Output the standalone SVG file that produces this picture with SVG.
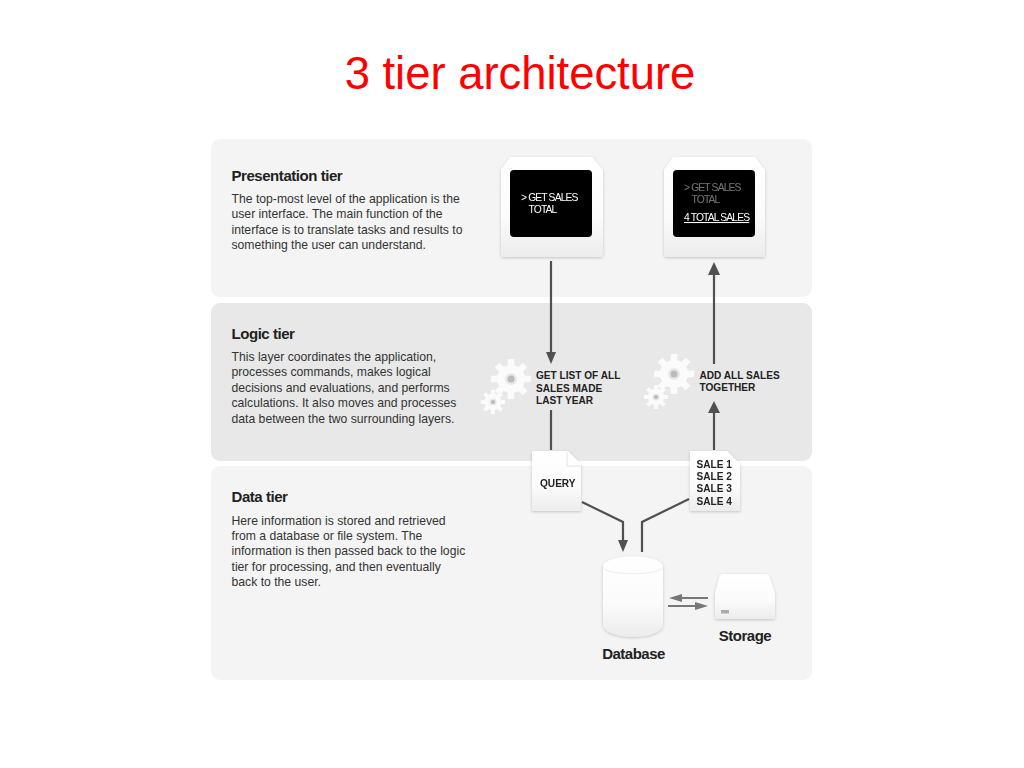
<svg xmlns="http://www.w3.org/2000/svg" width="1024" height="768" viewBox="0 0 1024 768">
<style>
text{font-family:"Liberation Sans",Arial,sans-serif}
.h{font-size:15px;font-weight:bold;fill:#222;letter-spacing:-.45px}
.b{font-size:12.2px;fill:#333}
.l{font-size:10.1px;font-weight:bold;fill:#222}
.s{font-size:10.3px;fill:#fff;letter-spacing:-.85px}
.c{fill:none;stroke:#505050;stroke-width:2.2}
.d{fill:none;stroke:#777;stroke-width:2}
</style>
<defs>
<linearGradient id="v" x1="0" y1="0" x2="0" y2="1"><stop offset="0" stop-color="#fff"/><stop offset=".6" stop-color="#fbfbfb"/><stop offset="1" stop-color="#ececec"/></linearGradient>
<filter id="sh" x="-20%" y="-20%" width="140%" height="140%"><feDropShadow dx="0" dy="1" stdDeviation="1.5" flood-color="#000" flood-opacity=".2"/></filter>
<filter id="soft"><feGaussianBlur stdDeviation=".5"/></filter>
<g id="gear" filter="url(#soft)"><circle r="14" fill="#fbfbfb"/><g stroke="#fbfbfb" stroke-width="6.500"><path d="M0-20V20M-20 0H20M-14-14L14 14M-14 14L14-14"/></g><circle r="6" fill="#e8e8e8"/><circle r="3.500" fill="#bbb"/></g>
</defs>
<rect width="1024" height="768" fill="#fff"/>
<text x="520" y="89" text-anchor="middle" font-size="45.400" fill="#f00" id="title">3 tier architecture</text>
<g id="tier-presentation">
<rect x="211" y="139" width="601" height="158" rx="9" fill="#f4f4f4"/>
<text class="h" x="231.500" y="181">Presentation tier</text>
<text class="b"><tspan x="231.500" y="203">The top-most level of the application is the</tspan><tspan x="231.500" y="218">user interface. The main function of the</tspan><tspan x="231.500" y="234">interface is to translate tasks and results to</tspan><tspan x="231.500" y="249">something the user can understand.</tspan></text>
</g>
<g id="tier-logic">
<rect x="211" y="303" width="601" height="158" rx="9" fill="#e8e8e8"/>
<text class="h" x="231.500" y="339">Logic tier</text>
<text class="b"><tspan x="231.500" y="361">This layer coordinates the application,</tspan><tspan x="231.500" y="376">processes commands, makes logical</tspan><tspan x="231.500" y="392">decisions and evaluations, and performs</tspan><tspan x="231.500" y="407">calculations. It also moves and processes</tspan><tspan x="231.500" y="423">data between the two surrounding layers.</tspan></text>
</g>
<g id="tier-data">
<rect x="211" y="466" width="601" height="214" rx="9" fill="#f4f4f4"/>
<text class="h" x="231.500" y="502">Data tier</text>
<text class="b"><tspan x="231.500" y="525">Here information is stored and retrieved</tspan><tspan x="231.500" y="540">from a database or file system. The</tspan><tspan x="231.500" y="555">information is then passed back to the logic</tspan><tspan x="231.500" y="571">tier for processing, and then eventually</tspan><tspan x="231.500" y="586">back to the user.</tspan></text>
</g>
<g id="connectors">
<path class="c" d="M551 261V354M551 410V450"/>
<path d="M546 352H556L551 364Z" fill="#505050"/>
<path class="c" d="M714 274V364M714 412V450"/>
<path d="M708 275H720L714 262ZM708 413H720L714 401Z" fill="#505050"/>
<path class="c" d="M582 502L623 522V541M689 499L642 522V552"/>
<path d="M618 540H628L623 552Z" fill="#505050"/>
<path class="d" d="M708 598H680M668 606H697"/>
<path d="M669 598L682 594V602ZM708 606L695 602V610Z" fill="#777"/>
</g>
<g id="screen-1" filter="url(#sh)">
<path d="M501 170L510 157H592L603 170V254Q603 257 600 257H504Q501 257 501 254Z" fill="url(#v)"/>
<rect x="510" y="170" width="82" height="67" rx="4" fill="#000"/>
<text class="s"><tspan x="521" y="201">&gt; GET SALES</tspan><tspan x="528.500" y="213">TOTAL</tspan></text>
</g>
<g id="screen-2" filter="url(#sh)">
<path d="M664 170L673 157H755L765 170V254Q765 257 762 257H667Q664 257 664 254Z" fill="url(#v)"/>
<rect x="673" y="170" width="82" height="67" rx="4" fill="#000"/>
<text class="s" fill-opacity=".45"><tspan x="684" y="191">&gt; GET SALES</tspan><tspan x="691.500" y="203">TOTAL</tspan></text>
<text class="s" x="684" y="221" text-decoration="underline">4 TOTAL SALES</text>
</g>
<g id="gears-1"><use href="#gear" transform="translate(511,379)"/><use href="#gear" transform="translate(493,402) scale(.6)"/>
<text class="l"><tspan x="536" y="379">GET LIST OF ALL</tspan><tspan x="536" y="392">SALES MADE</tspan><tspan x="536" y="404">LAST YEAR</tspan></text></g>
<g id="gears-2"><use href="#gear" transform="translate(674,374)"/><use href="#gear" transform="translate(656,397) scale(.6)"/>
<text class="l"><tspan x="699.500" y="379">ADD ALL SALES</tspan><tspan x="699.500" y="391">TOGETHER</tspan></text></g>
<g id="query" filter="url(#sh)">
<path d="M532 451H568L581 464V511H532Z" fill="url(#v)"/>
<path d="M567 452V466H581" fill="none" stroke="#e4e4e4"/>
<text class="l" x="540" y="487">QUERY</text>
</g>
<g id="sales" filter="url(#sh)">
<path d="M690 451H727L740 464V511H690Z" fill="url(#v)"/>
<text class="l"><tspan x="696.500" y="468">SALE 1</tspan><tspan x="696.500" y="480">SALE 2</tspan><tspan x="696.500" y="492">SALE 3</tspan><tspan x="696.500" y="505">SALE 4</tspan></text>
</g>
<g id="database">
<g filter="url(#sh)"><path d="M603 567C603 553 663 553 663 567V624C663 641 603 641 603 624Z" fill="url(#v)"/></g>
<path d="M603.500 567C603.500 576 662.500 576 662.500 567" fill="none" stroke="#ededed" stroke-width="1"/>
<text x="633.500" y="659" text-anchor="middle" font-size="15" font-weight="bold" fill="#222" letter-spacing="-.5">Database</text>
</g>
<g id="storage">
<path d="M723 574H766Q769 574 770 578L775 594V617Q775 619 772 619H717Q715 619 715 617V594L719 578Q720 574 723 574Z" fill="url(#v)" filter="url(#sh)"/>
<rect x="721" y="610" width="8" height="3.500" fill="#aaa"/>
<text x="745" y="641" text-anchor="middle" font-size="15" font-weight="bold" fill="#222" letter-spacing="-.5">Storage</text>
</g>
</svg>
